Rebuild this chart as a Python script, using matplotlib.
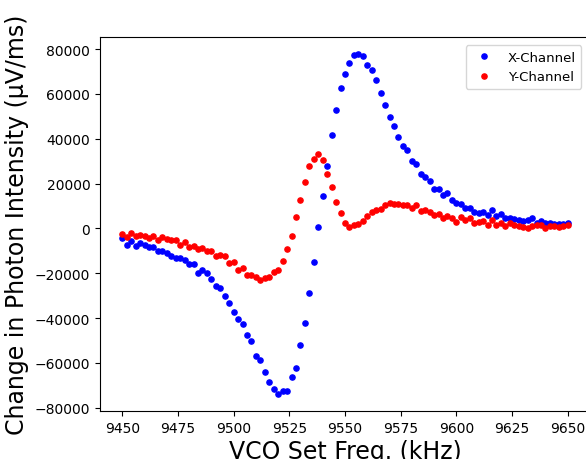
import matplotlib
matplotlib.use("Agg")
import matplotlib.pyplot as plt
import numpy as np

# VCO set frequency sweep, 2 kHz steps
freq = np.arange(9450, 9651, 2)

x_channel = [
    -4500, -7200, -5800, -8000, -6700, -7200, -8500, -8500, -9900, -9900,
    -11200, -12500, -13400, -13400, -13900, -15700, -15700, -19700, -18400, -19700,
    -22400, -25500, -26400, -30000, -33100, -37200, -40300, -42500, -47500, -50200,
    -56900, -58700, -64000, -68500, -71700, -73900, -72600, -72600, -66300, -62300,
    -52000, -42100, -28700, -15200, 600, 14600, 27800, 41700, 53000, 62700,
    69000, 73600, 77200, 77800, 76900, 72900, 70500, 66400, 60500, 55200,
    49900, 45800, 40900, 36900, 34800, 29900, 28800, 24200, 23000, 21200,
    17500, 17500, 14900, 15800, 12700, 11200, 10800, 9000, 9000, 7500,
    6800, 7300, 5800, 8200, 5500, 6600, 4800, 4500, 4000, 3600,
    3300, 3700, 4500, 2500, 3300, 2500, 2500, 2100, 2100, 1800,
    2500,
]

y_channel = [
    -2700, -3700, -2200, -3400, -3100, -3400, -4200, -3400, -5200, -3700,
    -4900, -5200, -5400, -7200, -6000, -8200, -7900, -9400, -8600, -10200,
    -10200, -12400, -12100, -12400, -15400, -15100, -18700, -17600, -20600, -20900,
    -21800, -23100, -22300, -21600, -19600, -18700, -14600, -9300, -3400, 5100,
    12700, 20600, 27900, 30800, 33300, 30500, 24300, 18500, 11800, 6900,
    2400, 400, 1700, 2100, 3300, 5500, 7300, 8400, 8800, 10300,
    11200, 10800, 10800, 10600, 10300, 9300, 10300, 7800, 8200, 7300,
    5800, 6600, 4800, 5500, 4800, 2800, 5200, 3700, 4800, 2400,
    3000, 3300, 1300, 3600, 1300, 2500, 1000, 2500, 1500, 1000,
    800, 0, 1000, 1500, 1500, 0, 1000, 1000, 800, 1000,
    1300,
]

fig = plt.figure(figsize=(5.86, 4.6), dpi=100)
ax = fig.add_axes([100 / 586, 48 / 460, 490 / 586, 374 / 460])

ax.plot(freq, x_channel, 'b.', ms=7.5, label='X-Channel')
ax.plot(freq, y_channel, 'r.', ms=7.5, label='Y-Channel')

ax.set_xticks(np.arange(9450, 9651, 25))
ax.set_yticks(np.arange(-80000, 80001, 20000))
ax.tick_params(labelsize=10)
ax.set_xlabel('VCO Set Freq. (kHz)', fontsize=17, labelpad=3)
ax.set_ylabel('Change in Photon Intensity (µV/ms)', fontsize=17)
ax.legend(loc='upper right', bbox_to_anchor=(0.996, 0.995), fontsize=9.5)

fig.savefig('out.png', dpi=100)
